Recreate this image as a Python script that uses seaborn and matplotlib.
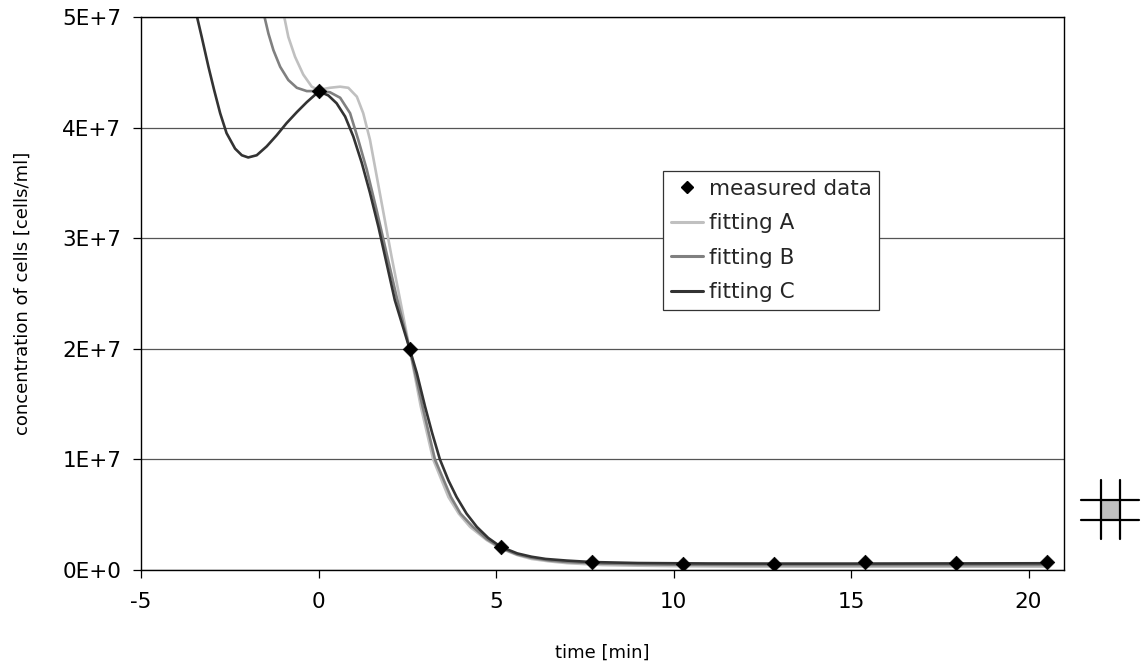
import numpy as np
import pandas as pd
import matplotlib
matplotlib.use("Agg")
import matplotlib.pyplot as plt
from matplotlib.lines import Line2D
from matplotlib.patches import Rectangle
from matplotlib.ticker import FuncFormatter
import seaborn as sns

# Measured cell concentration over time
measured_time = [0.0, 2.567, 5.133, 7.7, 10.267, 12.833, 15.4, 17.967, 20.533]
measured_conc = [4.33e7, 2.0e7, 2.05e6, 7.2e5, 5.6e5, 5.3e5, 7.2e5, 6.6e5, 7.2e5]

# Fitted curves (sampled along each curve)
fit_a_time = [-1.1, -0.99, -0.85, -0.66, -0.43, -0.19, 0.0, 0.32, 0.61, 0.84, 1.08,
              1.26, 1.45, 1.64, 1.83, 2.06, 2.30, 2.567, 2.88, 3.23, 3.66, 3.95, 4.27,
              4.74, 5.133, 5.6, 6.0, 6.5, 7.0, 8.0, 9.0, 10.0, 12.0, 14.0, 16.0, 18.0, 20.5]
fit_a_conc = [5.3e7, 5.04e7, 4.82e7, 4.64e7, 4.48e7, 4.37e7, 4.34e7, 4.36e7, 4.37e7,
              4.36e7, 4.28e7, 4.13e7, 3.89e7, 3.56e7, 3.23e7, 2.83e7, 2.44e7, 2.0e7,
              1.48e7, 1.0e7, 6.6e6, 5.1e6, 3.9e6, 2.7e6, 1.95e6, 1.35e6, 1.0e6, 7.8e5,
              6.2e5, 4.5e5, 3.9e5, 3.5e5, 3.1e5, 3.0e5, 3.0e5, 3.0e5, 3.0e5]

fit_b_time = [-1.7, -1.55, -1.41, -1.27, -1.08, -0.85, -0.61, -0.33, 0.0, 0.32, 0.61,
              0.89, 1.12, 1.36, 1.64, 1.92, 2.2, 2.567, 2.93, 3.28, 3.73, 4.0, 4.35,
              4.74, 5.133, 5.6, 6.0, 6.5, 7.0, 8.0, 9.0, 10.0, 12.0, 14.0, 16.0, 18.0, 20.5]
fit_b_conc = [5.2e7, 5.04e7, 4.85e7, 4.70e7, 4.55e7, 4.43e7, 4.36e7, 4.33e7, 4.33e7,
              4.32e7, 4.27e7, 4.13e7, 3.89e7, 3.62e7, 3.25e7, 2.86e7, 2.47e7, 2.0e7,
              1.48e7, 1.0e7, 6.6e6, 5.1e6, 3.9e6, 2.8e6, 2.0e6, 1.4e6, 1.1e6, 8.6e5,
              7.2e5, 5.8e5, 5.2e5, 4.8e5, 4.5e5, 4.4e5, 4.4e5, 4.4e5, 4.5e5]

fit_c_time = [-3.6, -3.45, -3.29, -3.10, -2.94, -2.77, -2.59, -2.35, -2.16, -1.98, -1.74,
              -1.46, -1.18, -0.9, -0.61, -0.33, -0.05, 0.0, 0.28, 0.51, 0.75, 0.98, 1.22,
              1.45, 1.69, 1.92, 2.15, 2.567, 2.77, 3.0, 3.2, 3.42, 3.66, 3.89, 4.17,
              4.46, 4.78, 5.133, 5.6, 6.0, 6.4, 7.0, 7.7, 9.0, 11.0, 13.0, 15.0, 17.0,
              19.0, 20.5]
fit_c_conc = [5.3e7, 5.04e7, 4.82e7, 4.55e7, 4.34e7, 4.13e7, 3.95e7, 3.81e7, 3.75e7,
              3.73e7, 3.75e7, 3.83e7, 3.93e7, 4.04e7, 4.14e7, 4.23e7, 4.31e7, 4.33e7,
              4.29e7, 4.22e7, 4.10e7, 3.92e7, 3.68e7, 3.41e7, 3.10e7, 2.77e7, 2.44e7,
              2.0e7, 1.78e7, 1.48e7, 1.24e7, 1.0e7, 8.1e6, 6.6e6, 5.1e6, 3.9e6, 2.9e6,
              2.1e6, 1.5e6, 1.2e6, 1.0e6, 8.5e5, 7.2e5, 6.3e5, 5.9e5, 5.8e5, 5.8e5,
              5.9e5, 6.0e5, 6.1e5]

x_ticks = [-5, 0, 5, 10, 15, 20]
y_ticks = [0, 1e7, 2e7, 3e7, 4e7, 5e7]

sns.set_theme(style="white")
plt.rcParams["font.family"] = ["DejaVu Sans"]

W, H = 1141, 664
fig = plt.figure(figsize=(W / 100, H / 100), dpi=100)
ax = fig.add_axes([141 / W, 1 - 570 / H, 923 / W, 553 / H])

curves = [
    ("fitting A", fit_a_time, fit_a_conc, "#c0c0c0"),
    ("fitting B", fit_b_time, fit_b_conc, "#808080"),
    ("fitting C", fit_c_time, fit_c_conc, "#333333"),
]
for name, t, c, col in curves:
    df = pd.DataFrame({"time": t, "conc": c})
    sns.lineplot(data=df, x="time", y="conc", ax=ax, color=col, linewidth=1.9,
                 sort=True, estimator=None, legend=False)

meas = pd.DataFrame({"time": measured_time, "conc": measured_conc})
sns.scatterplot(data=meas, x="time", y="conc", ax=ax, marker="D", s=55,
                color="black", edgecolor="black", linewidth=0.5, zorder=5, legend=False)

ax.set_xlim(-5, 21)
ax.set_ylim(0, 5e7)
ax.set_xticks(x_ticks)
ax.set_yticks(y_ticks)


def sci_label(v, pos):
    if v == 0:
        return "0E+0"
    e = int(np.floor(np.log10(abs(v))))
    m = v / 10 ** e
    return f"{m:.0f}E+{e}"


ax.yaxis.set_major_formatter(FuncFormatter(sci_label))
ax.xaxis.set_major_formatter(FuncFormatter(lambda v, p: f"{v:.0f}"))

ax.grid(False)
ax.yaxis.grid(True, color="#555555", linewidth=0.9)
ax.set_axisbelow(True)
for side in ["left", "bottom", "top", "right"]:
    ax.spines[side].set_visible(True)
    ax.spines[side].set_color("black")
    ax.spines[side].set_linewidth(1.0)

ax.tick_params(axis="both", which="major", direction="out", length=5.5, width=0.9,
               color="black", labelsize=15.5, labelcolor="black")
ax.tick_params(axis="y", pad=8.5, left=True)
ax.tick_params(axis="x", pad=10, bottom=True)

ax.set_xlabel("time [min]", fontsize=13, color="black")
ax.set_ylabel("concentration of cells [cells/ml]", fontsize=13, color="black")
ax.xaxis.set_label_coords(0.5, -0.133)
ax.yaxis.set_label_coords(-0.118, 0.5)

# Legend: measured data first, then the three fits
meas_handle = Line2D([], [], linestyle="none", marker="D", markersize=6, color="black")
leg_handles = [meas_handle] + [Line2D([], [], color=col, linewidth=2.2)
                               for _, _, _, col in curves]
leg_labels = ["measured data", "fitting A", "fitting B", "fitting C"]
leg = ax.legend(leg_handles, leg_labels, loc="upper left",
                bbox_to_anchor=(522 / 923, (570 - 171) / 553), fontsize=15.5,
                frameon=True, fancybox=False, framealpha=1, edgecolor="#333333",
                borderpad=0.35, handlelength=1.5, handletextpad=0.28,
                labelspacing=0.68, borderaxespad=0)
leg.get_frame().set_linewidth(0.9)


# Small grid glyph at the right margin
def fx(px):
    return px / W


def fy(py):
    return 1 - py / H


fig.add_artist(Rectangle((fx(1100.5), fy(519.5)), (1119.5 - 1100.5) / W, (519.5 - 500) / H,
                         transform=fig.transFigure, facecolor="#c0c0c0", edgecolor="none"))
for y in (500, 519.5):
    fig.add_artist(Line2D([fx(1080.5), fx(1139)], [fy(y), fy(y)], transform=fig.transFigure,
                          color="black", linewidth=1.6))
for x in (1100.5, 1119.5):
    fig.add_artist(Line2D([fx(x), fx(x)], [fy(480), fy(538.5)], transform=fig.transFigure,
                          color="black", linewidth=1.6))

fig.savefig("out.png", dpi=100, facecolor="white")
